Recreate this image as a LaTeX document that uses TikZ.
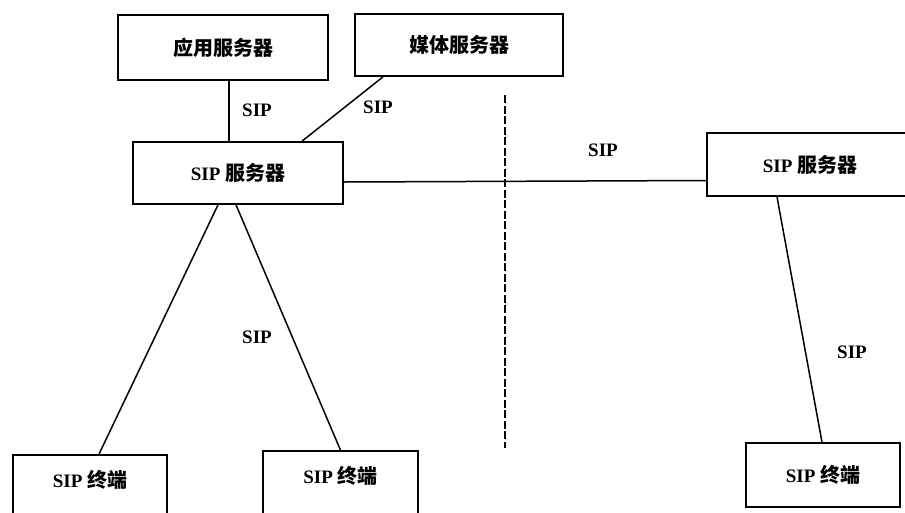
\documentclass[tikz,border=0pt]{standalone}
\usepackage{fontspec}
\setmainfont{Liberation Serif}
\newfontfamily\cjk{Noto Sans CJK SC}
\newcommand\zh[1]{{\fontsize{20}{22}\selectfont\cjk\bfseries #1}}
\tikzset{
  box/.style={draw, line width=1.7pt, rectangle, inner sep=0pt, font=\fontsize{19}{21}\selectfont\bfseries},
  termbox/.style={box, minimum width=154pt, minimum height=64pt, text height=12pt, text depth=12pt},
  link/.style={line width=1.5pt},
  sep/.style={line width=1.8pt, dash pattern=on 8pt off 2.5pt},
  lbl/.style={font=\fontsize{19}{21}\selectfont\bfseries, inner sep=0pt}
}
\begin{document}
\begin{tikzpicture}[x=1pt,y=-1pt]
\path[use as bounding box] (0,0) rectangle (905,512);
\clip (0,0) rectangle (905,512);
\fill[white] (0,0) rectangle (905,512);
% boxes
\node[box, minimum width=210pt, minimum height=65pt] (app) at (223,47.5) {\zh{应用服务器}};
\node[box, minimum width=208pt, minimum height=62pt] (media) at (459,45) {\zh{媒体服务器}};
\node[box, minimum width=210pt, minimum height=62pt] (srv) at (238,173) {SIP \zh{服务器}};
\node[box, minimum width=206pt, minimum height=63pt] (rsrv) at (810,164.5) {SIP \zh{服务器}};
\node[termbox] (t1) at (90,487) {SIP \zh{终端}};
\node[termbox, minimum width=155pt] (t2) at (340.5,483) {SIP \zh{终端}};
\node[box, minimum width=154pt, minimum height=64pt] (t3) at (823,475) {SIP \zh{终端}};
% connectors
\draw[link] ([xshift=6pt]app.south) -- ([xshift=6pt]app.south |- srv.north);
\draw[link] ([xshift=-76pt]media.south) -- ([xshift=64pt]srv.north);
\draw[link] ([yshift=-9pt]srv.east) -- ([yshift=-16pt]rsrv.west);
\draw[link] ([xshift=-20pt]srv.south) -- ([xshift=9pt]t1.north);
\draw[link] ([xshift=-2pt]srv.south) -- (t2.north);
\draw[link] ([xshift=-33pt]rsrv.south) -- ([xshift=-1pt]t3.north);
% dashed separator
\coordinate (dtop) at (505,95);
\coordinate (dbot) at (505,448);
\draw[sep] (dtop) -- (dbot);
% labels
\node[lbl] (l1) at (257,110) {SIP};
\node[lbl] (l2) at (378,107) {SIP};
\node[lbl] (l3) at (603,150) {SIP};
\node[lbl] (l4) at (257,337) {SIP};
\node[lbl] (l5) at (852,352) {SIP};
\end{tikzpicture}
\end{document}
